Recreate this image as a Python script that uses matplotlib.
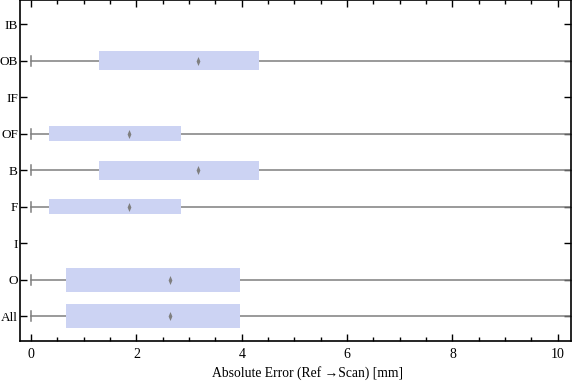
import matplotlib
matplotlib.use("Agg")
import matplotlib.pyplot as plt
from matplotlib.path import Path
from matplotlib.ticker import MultipleLocator

plt.rcParams['font.family'] = ['Liberation Serif', 'DejaVu Serif']

categories = ["All", "O", "I", "F", "B", "OF", "IF", "OB", "IB"]
mins = [0.0, 0.0, None, 0.0, 0.0, 0.0, None, 0.0, None]
q1 = [0.66, 0.66, None, 0.34, 1.29, 0.34, None, 1.29, None]
medians = [2.64, 2.64, None, 1.86, 3.17, 1.86, None, 3.17, None]
q3 = [3.97, 3.97, None, 2.85, 4.33, 2.85, None, 4.33, None]
maxs = [14.0, 14.0, None, 14.0, 14.0, 14.0, None, 14.0, None]
box_heights = [0.66, 0.66, None, 0.41, 0.51, 0.41, None, 0.52, None]

fig = plt.figure(figsize=(5.76, 3.81), dpi=100)
ax = fig.add_axes([20/576, 40/381, 551/576, 341/381 - 0.001])

box_color = "#ccd3f3"
line_color = "#7f7f7f"

stats, positions, widths = [], [], []
for i, c in enumerate(categories):
    if q1[i] is None:
        continue
    stats.append(dict(label=c, whislo=mins[i], q1=q1[i], med=medians[i],
                      q3=q3[i], whishi=maxs[i], fliers=[]))
    positions.append(i)
    widths.append(box_heights[i])

ax.bxp(stats, positions=positions, widths=widths, vert=False, patch_artist=True,
       showfliers=False, capwidths=[0.27] * len(stats),
       boxprops=dict(facecolor=box_color, edgecolor="none", linewidth=0, zorder=3),
       whiskerprops=dict(color=line_color, linewidth=1.1, zorder=2),
       capprops=dict(color=line_color, linewidth=1.1, zorder=2),
       medianprops=dict(linewidth=0, alpha=0))

diamond = Path([(0, 1), (0.42, 0), (0, -1), (-0.42, 0), (0, 1)],
               [Path.MOVETO, Path.LINETO, Path.LINETO, Path.LINETO, Path.CLOSEPOLY])
mx = [m for m in medians if m is not None]
my = [i for i, m in enumerate(medians) if m is not None]
ax.scatter(mx, my, marker=diamond, s=42, color=line_color, zorder=4, linewidths=0)

ax.set_xlim(-0.21, 10.25)
ax.set_ylim(-0.685, 8.66)
ax.set_yticks(range(len(categories)))
ax.set_yticklabels(categories)
ax.xaxis.set_major_locator(MultipleLocator(2))
ax.xaxis.set_minor_locator(MultipleLocator(0.5))
ax.tick_params(axis='both', which='both', direction='in', top=True, right=True,
               labelsize=10, width=1)
ax.tick_params(axis='y', labelsize=9.5)
ax.tick_params(axis='both', which='major', length=5)
ax.tick_params(axis='x', which='minor', length=3)
ax.tick_params(axis='y', which='minor', left=False, right=False)
ax.tick_params(axis='y', pad=1.5)
ax.tick_params(axis='x', pad=5)
for s in ax.spines.values():
    s.set_linewidth(1.2)

ax.set_xlabel("Absolute Error (Ref \u2192Scan) [mm]", fontsize=9.8)
ax.xaxis.set_label_coords(0.521, -0.075)

fig.savefig("out.png", dpi=100)
